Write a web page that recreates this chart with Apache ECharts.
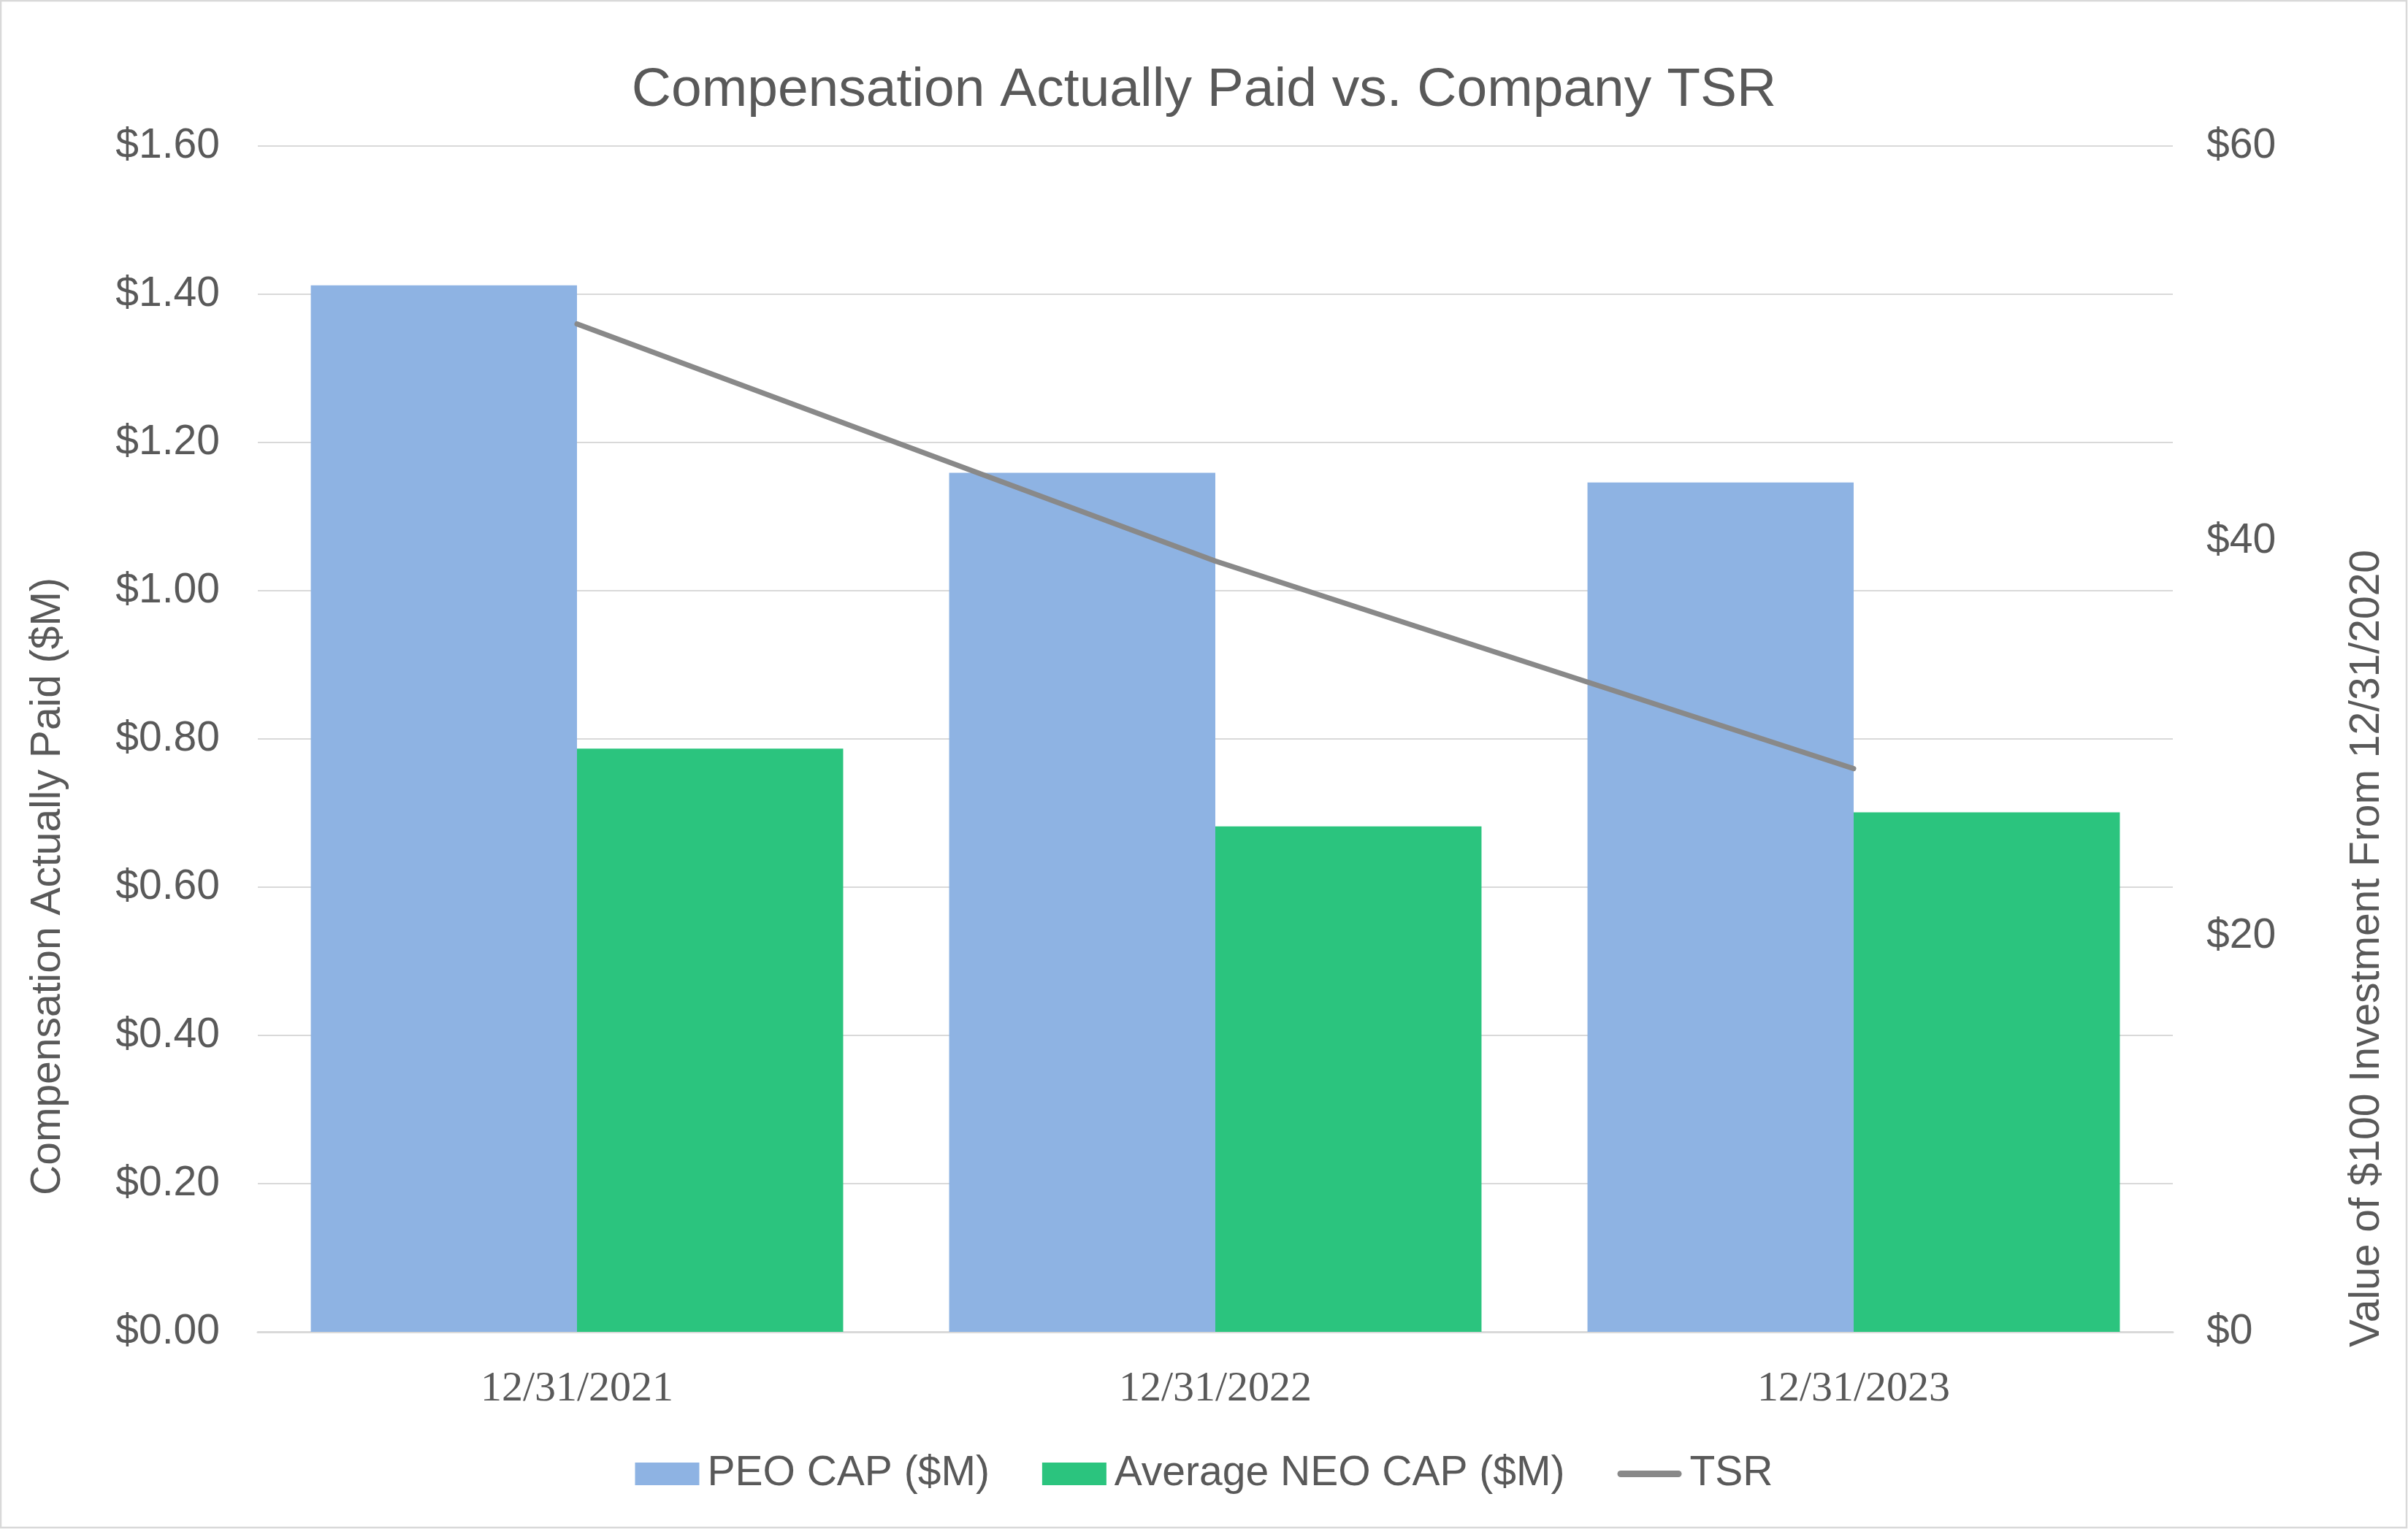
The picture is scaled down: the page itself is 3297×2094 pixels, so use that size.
<!DOCTYPE html>
<html>
<head>
<meta charset="utf-8">
<script src="https://cdn.jsdelivr.net/npm/echarts@6/dist/echarts.min.js"></script>
<style>
html,body{margin:0;padding:0;background:#fff;}
#chart{width:3297px;height:2094px;}
</style>
</head>
<body>
<div id="chart"></div>
<script>
const categories = ['12/31/2021', '12/31/2022', '12/31/2023'];
const peoCap = [1.412, 1.159, 1.146];
const neoCap = [0.787, 0.682, 0.701];
const tsr = [51.0, 39.0, 28.5];
const leftTicks = { min: 0, max: 1.6, interval: 0.2 };
const rightTicks = { min: 0, max: 60, interval: 20 };

const chart = echarts.init(document.getElementById('chart'), null, { renderer: 'canvas' });
const txt = '#595959';
const sans = 'Liberation Sans, Arial, sans-serif';
chart.setOption({
  backgroundColor: '#ffffff',
  animation: false,
  title: {
    text: 'Compensation Actually Paid vs. Company TSR',
    left: 'center',
    top: 82,
    textStyle: { color: txt, fontSize: 75, fontWeight: 'normal', fontFamily: sans }
  },
  legend: {
    top: 1990,
    left: 'center',
    padding: 0,
    itemWidth: 88,
    itemHeight: 31,
    itemGap: 72,
    symbolKeepAspect: true,
    textStyle: { color: txt, fontSize: 57, fontFamily: sans, padding: [0, 0, 0, 6] },
    data: [
      { name: 'PEO CAP ($M)', icon: 'rect' },
      { name: 'Average NEO CAP ($M)', icon: 'rect' },
      { name: 'TSR', icon: 'path://M4.5,0 L83.5,0 A4.5,4.5 0 0 1 83.5,9 L4.5,9 A4.5,4.5 0 0 1 4.5,0 Z' }
    ]
  },
  grid: { left: 353, right: 322, top: 200, bottom: 270, containLabel: false, outerBoundsMode: 'none' },
  xAxis: {
    type: 'category',
    data: categories,
    axisLine: { show: true, lineStyle: { color: '#d9d9d9', width: 3 } },
    axisTick: { show: false },
    axisLabel: { color: txt, fontSize: 58, fontFamily: 'Liberation Serif, Times New Roman, serif', margin: 50 }
  },
  yAxis: [
    {
      type: 'value',
      min: leftTicks.min, max: leftTicks.max, interval: leftTicks.interval,
      name: 'Compensation Actually Paid ($M)',
      nameLocation: 'middle',
      nameGap: 258,
      nameTextStyle: { color: txt, fontSize: 57, fontFamily: sans, padding: [0, 404, 0, 0] },
      axisLine: { show: false },
      axisTick: { show: false },
      splitLine: { show: true, lineStyle: { color: '#d9d9d9', width: 2 } },
      axisLabel: { color: txt, fontSize: 57, fontFamily: sans, margin: 52,
        formatter: v => '$' + v.toFixed(2) }
    },
    {
      type: 'value',
      min: rightTicks.min, max: rightTicks.max, interval: rightTicks.interval,
      position: 'right',
      name: 'Value of $100 Investment From 12/31/2020',
      nameLocation: 'middle',
      nameGap: 238,
      nameTextStyle: { color: txt, fontSize: 57, fontFamily: sans, padding: [0, 574, 0, 0] },
      axisLine: { show: false },
      axisTick: { show: false },
      splitLine: { show: false },
      axisLabel: { color: txt, fontSize: 57, fontFamily: sans, margin: 46,
        formatter: v => '$' + v }
    }
  ],
  series: [
    {
      name: 'PEO CAP ($M)', type: 'bar', yAxisIndex: 0, data: peoCap,
      itemStyle: { color: '#8eb3e3' },
      barGap: '0%', barCategoryGap: '16.6%'
    },
    {
      name: 'Average NEO CAP ($M)', type: 'bar', yAxisIndex: 0, data: neoCap,
      itemStyle: { color: '#2bc47e' },
      barGap: '0%', barCategoryGap: '16.6%'
    },
    {
      name: 'TSR', type: 'line', yAxisIndex: 1, data: tsr,
      symbol: 'none', z: 5,
      lineStyle: { color: '#898989', width: 7, cap: 'round' },
      itemStyle: { color: '#898989' }
    }
  ],
  graphic: [
    { type: 'rect', silent: true, z: -1,
      shape: { x: 1, y: 1, width: 3294, height: 2091 },
      style: { fill: 'none', stroke: '#d9d9d9', lineWidth: 2.5 } }
  ]
});
</script>
</body>
</html>
